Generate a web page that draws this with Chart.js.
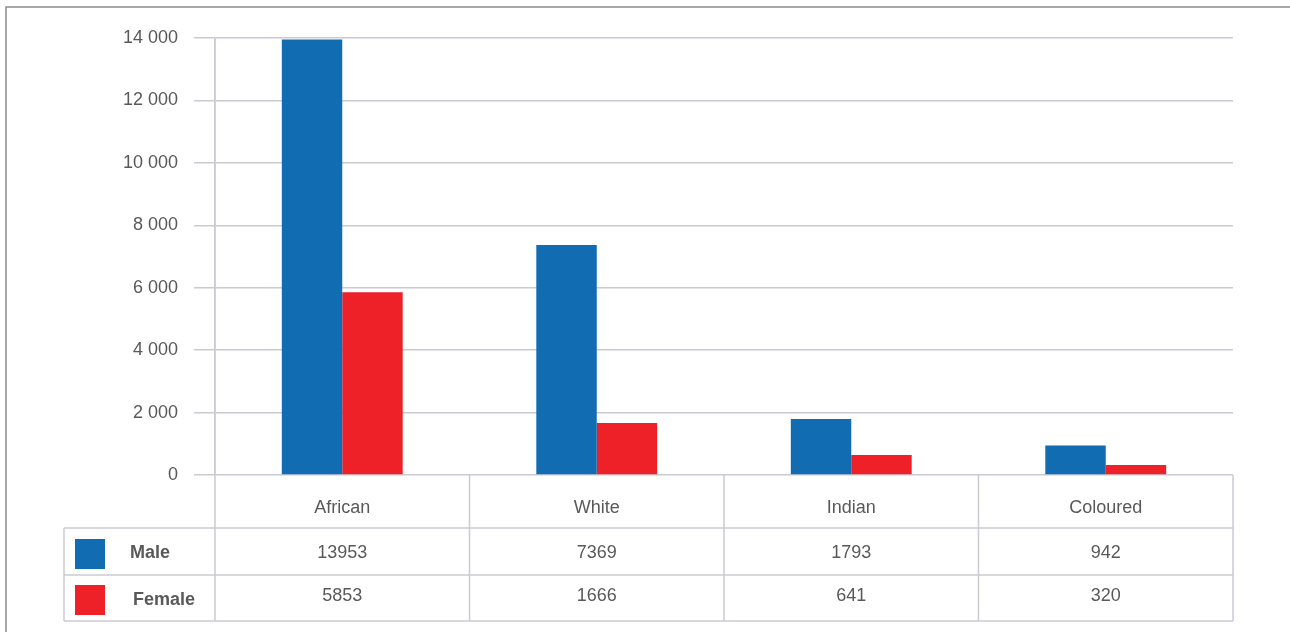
<!DOCTYPE html>
<html>
<head>
<meta charset="utf-8">
<script src="https://cdn.jsdelivr.net/npm/chart.js@4"></script>
<style>
  html, body { margin: 0; padding: 0; background: #fff; }
  #wrap { width: 1290px; height: 632px; position: relative; }
</style>
</head>
<body>
<div id="wrap"><canvas id="popChart" width="1290" height="632"></canvas></div>
<script>
const categories = ['African', 'White', 'Indian', 'Coloured'];
const seriesNames = ['Male', 'Female'];
const maleValues = [13953, 7369, 1793, 942];
const femaleValues = [5853, 1666, 641, 320];
const seriesColors = ['#116cb1', '#ee2129'];

const gridColor = '#cacad2';
const textColor = '#595959';
const fontFamily = '"Liberation Sans", Arial, sans-serif';

function spaced(v) {
    return String(v).replace(/\B(?=(\d{3})+(?!\d))/g, ' ');
}

// frame, category labels and the data table under the plot
const dataTablePlugin = {
    id: 'dataTable',
    afterDraw: function(chart) {
        const ctx = chart.ctx;
        const xs = chart.scales.x;
        const area = chart.chartArea;
        const left = area.left, right = area.right, bottom = area.bottom;
        const rowTop = [bottom, 528, 575, 621];
        const legendLeft = 64;

        ctx.save();
        // outer frame
        ctx.strokeStyle = '#8c8c8c';
        ctx.lineWidth = 1.5;
        ctx.beginPath();
        ctx.moveTo(6, 632);
        ctx.lineTo(6, 7);
        ctx.lineTo(1290, 7);
        ctx.stroke();

        // table grid
        ctx.strokeStyle = gridColor;
        ctx.lineWidth = 1.5;
        ctx.beginPath();
        for (let r = 1; r < rowTop.length; r++) {
            ctx.moveTo(legendLeft, rowTop[r]);
            ctx.lineTo(right, rowTop[r]);
        }
        ctx.moveTo(legendLeft, rowTop[1]);
        ctx.lineTo(legendLeft, rowTop[3]);
        ctx.moveTo(left, area.top);
        ctx.lineTo(left, rowTop[3]);
        const step = (right - left) / categories.length;
        for (let i = 1; i <= categories.length; i++) {
            const x = left + step * i;
            ctx.moveTo(x, bottom);
            ctx.lineTo(x, rowTop[3]);
        }
        ctx.stroke();

        ctx.fillStyle = textColor;
        ctx.textAlign = 'center';
        ctx.textBaseline = 'middle';
        ctx.font = '18px ' + fontFamily;
        categories.forEach((c, i) => {
            const x = xs.getPixelForValue(i);
            ctx.fillText(c, x, 508);
            ctx.fillText(String(maleValues[i]), x, 553);
            ctx.fillText(String(femaleValues[i]), x, 596);
        });

        // legend keys in the first column
        const keyY = [539, 585];
        const nameX = [130, 133];
        const nameY = [553, 600];
        seriesNames.forEach((n, i) => {
            ctx.fillStyle = seriesColors[i];
            ctx.fillRect(75, keyY[i], 30, 30);
            ctx.fillStyle = textColor;
            ctx.textAlign = 'left';
            ctx.font = 'bold 18px ' + fontFamily;
            ctx.fillText(n, nameX[i], nameY[i]);
        });
        ctx.restore();
    }
};

const ctx = document.getElementById('popChart').getContext('2d');
new Chart(ctx, {
    type: 'bar',
    data: {
        labels: categories,
        datasets: [{
            label: seriesNames[0],
            data: maleValues,
            backgroundColor: seriesColors[0],
            barPercentage: 1,
            categoryPercentage: 0.475
        }, {
            label: seriesNames[1],
            data: femaleValues,
            backgroundColor: seriesColors[1],
            barPercentage: 1,
            categoryPercentage: 0.475
        }]
    },
    options: {
        responsive: false,
        animation: false,
        layout: { padding: { left: 0, top: 38, right: 57, bottom: 157 } },
        plugins: {
            legend: { display: false },
            tooltip: { enabled: false }
        },
        scales: {
            x: { display: false },
            y: {
                min: 0,
                max: 14000,
                ticks: {
                    stepSize: 2000,
                    padding: 16,
                    color: textColor,
                    font: { family: fontFamily, size: 18 },
                    callback: v => spaced(v)
                },
                grid: { color: gridColor, lineWidth: 1.5, tickLength: 21 },
                border: { display: true, color: gridColor, width: 1.5 },
                afterFit: function(scale) { scale.width = 215; }
            }
        }
    },
    plugins: [dataTablePlugin]
});
</script>
</body>
</html>
